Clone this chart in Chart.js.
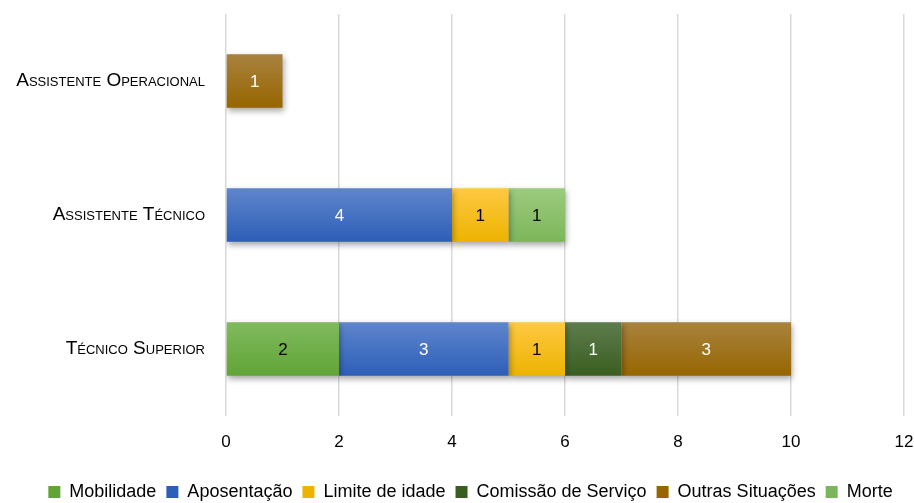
<!DOCTYPE html>
<html>
<head>
<meta charset="utf-8">
<script src="https://cdn.jsdelivr.net/npm/chart.js@4.4.1/dist/chart.umd.min.js"></script>
<style>
  html, body { margin: 0; padding: 0; background: #fff; }
  #wrap { width: 914px; height: 503px; }
</style>
</head>
<body>
<div id="wrap"><canvas id="c"></canvas></div>
<script>
const categories = ["Assistente Operacional", "Assistente Técnico", "Técnico Superior"];
const mobilidade = [null, null, 2];
const aposentacao = [null, 4, 3];
const limiteIdade = [null, 1, 1];
const comissaoServico = [null, null, 1];
const outrasSituacoes = [1, null, 3];
const morte = [null, 1, null];
const xTicks = [0, 2, 4, 6, 8, 10, 12];

const sans = "'Liberation Sans', Arial, sans-serif";

// vertical gradient per bar, light on top
function fill(top, bottom, solid) {
  return (ctx) => {
    if (ctx.type !== "data") return solid;
    const c = ctx.chart;
    const ys = c.scales && c.scales.y;
    if (!ys || !c.chartArea) return solid;
    const yc = ys.getPixelForValue(ctx.dataIndex);
    if (!isFinite(yc)) return solid;
    const g = c.ctx.createLinearGradient(0, yc - 27, 0, yc + 27);
    g.addColorStop(0, top);
    g.addColorStop(1, bottom);
    return g;
  };
}

const series = [
  { label: "Mobilidade", data: mobilidade, c: ["#80ba5e", "#62a436", "#6aaa45"], txt: "#000" },
  { label: "Aposentação", data: aposentacao, c: ["#5f86cc", "#2d5eb8", "#4472c4"], txt: "#fff" },
  { label: "Limite de idade", data: limiteIdade, c: ["#ffc942", "#ecb300", "#ffc000"], txt: "#000" },
  { label: "Comissão de Serviço", data: comissaoServico, c: ["#5d7c4c", "#3a5e21", "#43682b"], txt: "#fff" },
  { label: "Outras Situações", data: outrasSituacoes, c: ["#a8823f", "#976600", "#9c6f00"], txt: "#fff" },
  { label: "Morte", data: morte, c: ["#9ccb7f", "#7cb65a", "#8fca6b"], txt: "#000" },
];

const valueLabels = {
  id: "valueLabels",
  afterDatasetsDraw(chart) {
    const ctx = chart.ctx;
    ctx.save();
    ctx.font = "17px " + sans;
    ctx.textAlign = "center";
    ctx.textBaseline = "middle";
    chart.data.datasets.forEach((ds, i) => {
      const meta = chart.getDatasetMeta(i);
      meta.data.forEach((el, j) => {
        const v = ds.data[j];
        if (v == null) return;
        ctx.fillStyle = series[i].txt;
        ctx.fillText(String(v), (el.x + el.base) / 2, el.y + 1);
      });
    });
    ctx.restore();
  }
};

const barShadow = {
  id: "barShadow",
  beforeDatasetsDraw(chart) {
    const ctx = chart.ctx;
    ctx.save();
    ctx.shadowColor = "rgba(0,0,0,0.35)";
    ctx.shadowBlur = 6;
    ctx.shadowOffsetX = 1;
    ctx.shadowOffsetY = 3;
  },
  afterDatasetsDraw(chart) {
    chart.ctx.restore();
  }
};

// legend sits a little right of centre in the original
const legendShift = {
  id: "legendShift",
  afterLayout(chart) {
    if (chart.legend) {
      chart.legend.left += 14;
      chart.legend.right += 14;
    }
  }
};

new Chart(document.getElementById("c"), {
  type: "bar",
  data: {
    labels: categories,
    datasets: series.map(s => ({
      label: s.label,
      data: s.data,
      backgroundColor: fill(s.c[0], s.c[1], s.c[2]),
      borderWidth: 0,
      barPercentage: 0.8,
      categoryPercentage: 0.5,
    })),
  },
  options: {
    indexAxis: "y",
    responsive: true,
    maintainAspectRatio: false,
    animation: false,
    layout: { padding: { top: 14, right: 1, left: 0, bottom: -8 } },
    scales: {
      x: {
        stacked: true,
        min: 0,
        max: 12,
        afterBuildTicks: (axis) => { axis.ticks = xTicks.map(v => ({ value: v })); },
        afterFit: (axis) => { axis.height = 57; axis.paddingRight = 10; axis.paddingLeft = 0; },
        grid: { color: "#d9d9d9", lineWidth: 1.5, drawTicks: false },
        border: { display: false },
        ticks: { color: "#000", padding: 16, font: { family: sans, size: 17 } },
      },
      y: {
        stacked: true,
        afterFit: (axis) => { axis.width = 226; axis.paddingTop = 0; axis.paddingBottom = 0; },
        grid: { display: false, drawTicks: false },
        border: { display: false },
        ticks: {
          color: "#000",
          padding: 21,
          font: { family: sans, size: 19, weight: "small-caps 400" },
        },
      },
    },
    plugins: {
      legend: {
        position: "bottom",
        labels: {
          boxWidth: 12,
          boxHeight: 12,
          padding: 10,
          color: "#000",
          font: { family: sans, size: 18 },
        },
      },
      tooltip: { enabled: false },
    },
  },
  plugins: [barShadow, valueLabels, legendShift],
});
</script>
</body>
</html>
